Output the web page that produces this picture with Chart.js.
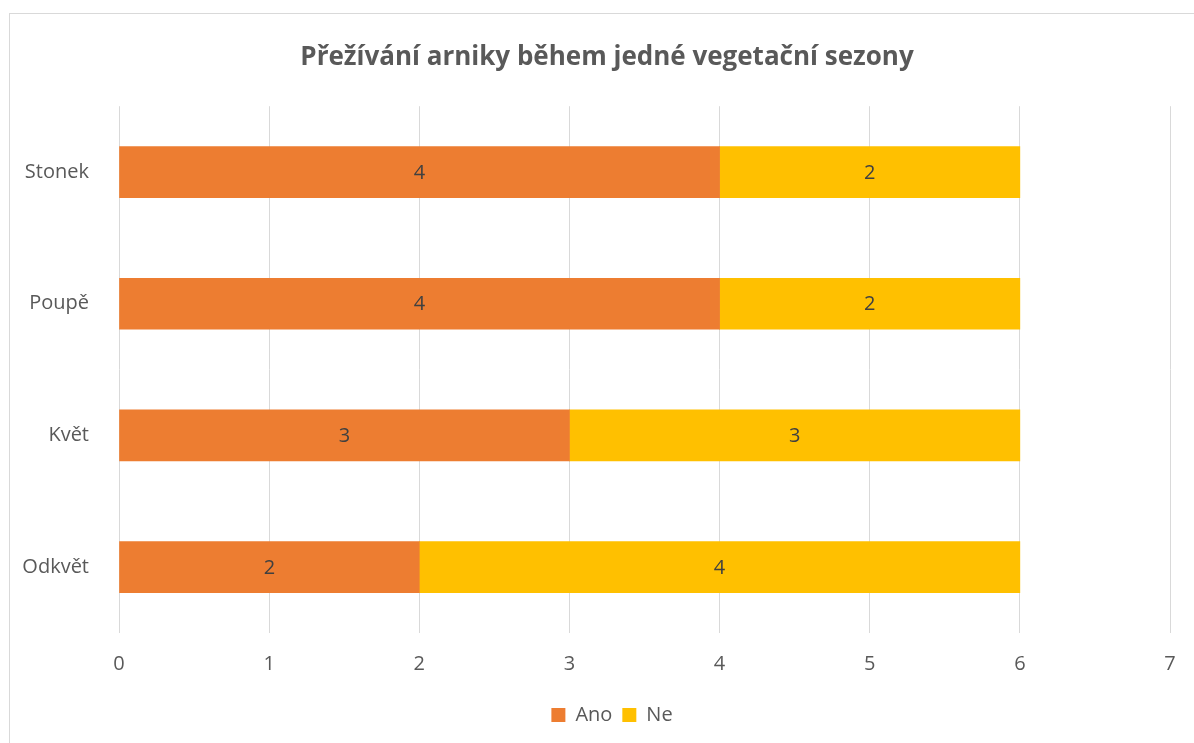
<!DOCTYPE html>
<html>
<head>
<meta charset="utf-8">
<script src="https://cdn.jsdelivr.net/npm/chart.js@4"></script>
<style>
  body { margin: 0; background: #fff; overflow: hidden; }
  #frame { position: absolute; left: 9px; top: 13px; width: 1300px; height: 900px; border: 1px solid #d9d9d9; }
  #wrap { position: absolute; left: 0; top: 0; width: 1194px; height: 743px; }
</style>
</head>
<body>
<div id="frame"></div>
<div id="wrap"><canvas id="chart"></canvas></div>
<script>
const categories = ['Stonek', 'Poupě', 'Květ', 'Odkvět'];
const ano = [4, 4, 3, 2];
const ne = [2, 2, 3, 4];
const xTicks = [0, 1, 2, 3, 4, 5, 6, 7];

// centre labels on each bar segment
const barLabels = {
    id: 'barLabels',
    afterLayout(chart) {
        // title and legend sit a bit right of the canvas centre, as in the original frame
        const move = (box, centre) => {
            if (!box) return;
            const shift = centre - (box.left + box.right) / 2;
            box.left += shift;
            box.right += shift;
        };
        move(chart.titleBlock, 607);
        move(chart.legend, 612);
    },
    afterDatasetsDraw(chart) {
        const ctx = chart.ctx;
        ctx.save();
        ctx.font = '20px "Open Sans"';
        ctx.fillStyle = '#404040';
        ctx.textAlign = 'center';
        ctx.textBaseline = 'middle';
        chart.data.datasets.forEach((ds, i) => {
            chart.getDatasetMeta(i).data.forEach((bar, j) => {
                ctx.fillText(ds.data[j], (bar.x + bar.base) / 2, bar.y + 1);
            });
        });
        ctx.restore();
    }
};

new Chart(document.getElementById('chart'), {
    type: 'bar',
    data: {
        labels: categories,
        datasets: [
            { label: 'Ano', data: ano, backgroundColor: '#ED7D31', barThickness: 51 },
            { label: 'Ne', data: ne, backgroundColor: '#FFC000', barThickness: 51 }
        ]
    },
    options: {
        indexAxis: 'y',
        responsive: true,
        maintainAspectRatio: false,
        animation: false,
        layout: { padding: { left: 0, right: 24, top: 0, bottom: 8 } },
        plugins: {
            title: {
                display: true,
                text: 'Přežívání arniky během jedné vegetační sezony',
                color: '#595959',
                font: { family: 'Open Sans', size: 26, weight: 'bold' },
                padding: { top: 42, bottom: 33 }
            },
            legend: {
                position: 'bottom',
                labels: {
                    color: '#595959',
                    font: { family: 'Open Sans', size: 20 },
                    boxWidth: 14,
                    boxHeight: 14,
                    padding: 10
                }
            },
            tooltip: { enabled: false }
        },
        scales: {
            x: {
                stacked: true,
                min: 0,
                max: 7,
                afterBuildTicks: (axis) => { axis.ticks = xTicks.map(v => ({ value: v })); },
                afterFit: (axis) => { axis.paddingLeft = 0; axis.paddingRight = 0; },
                grid: { color: '#d9d9d9', drawTicks: false },
                border: { display: false },
                ticks: { color: '#595959', font: { family: 'Open Sans', size: 20 }, padding: 19 }
            },
            y: {
                stacked: true,
                grid: { display: false },
                border: { display: false },
                ticks: { color: '#595959', font: { family: 'Open Sans', size: 20 }, padding: 22 },
                afterFit: (axis) => { axis.width = 119; }
            }
        }
    },
    plugins: [barLabels]
});
</script>
</body>
</html>
